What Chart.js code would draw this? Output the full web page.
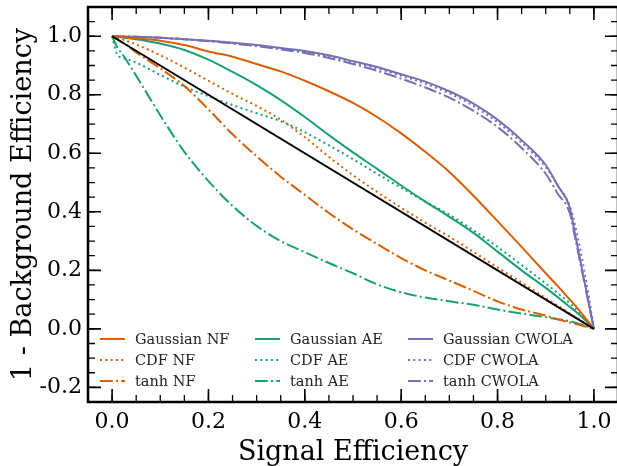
<!DOCTYPE html>
<html lang="en">
  <head>
    <meta charset="UTF-8" />
    <title>ROC - Signal vs Background Efficiency</title>
    <script src="https://cdn.jsdelivr.net/npm/chart.js@4.4.1/dist/chart.umd.min.js"></script>
    <style>
      html,
      body {
        margin: 0;
        padding: 0;
        overflow: hidden;
        background: #fff;
      }
      #wrap {
        width: 620px;
        height: 466px;
      }
    </style>
  </head>
  <body>
    <div id="wrap"><canvas id="roc"></canvas></div>

    <script>
      // signal efficiency grid shared by all curves
      const sigEff = [
        0, 0.01, 0.025, 0.05, 0.1, 0.15, 0.2, 0.25, 0.3, 0.35, 0.4, 0.45, 0.5,
        0.55, 0.6, 0.65, 0.7, 0.75, 0.8, 0.85, 0.9, 0.925, 0.95, 0.96, 0.97,
        0.98, 0.99, 1.0,
      ];

      // 1 - background efficiency
      const gaussianNF = [
        1, 0.999, 0.997, 0.993, 0.985, 0.97, 0.948, 0.93, 0.905, 0.88, 0.848,
        0.812, 0.772, 0.724, 0.668, 0.605, 0.536, 0.455, 0.368, 0.28, 0.19,
        0.146, 0.1, 0.082, 0.062, 0.042, 0.021, 0,
      ];
      const cdfNF = [
        1, 0.995, 0.987, 0.972, 0.935, 0.893, 0.848, 0.803, 0.762, 0.715,
        0.655, 0.588, 0.525, 0.468, 0.414, 0.363, 0.315, 0.263, 0.21, 0.158,
        0.105, 0.079, 0.053, 0.042, 0.032, 0.021, 0.01, 0,
      ];
      const tanhNF = [
        1, 0.99, 0.975, 0.945, 0.89, 0.83, 0.75, 0.665, 0.59, 0.52, 0.458,
        0.396, 0.34, 0.29, 0.242, 0.2, 0.165, 0.13, 0.094, 0.066, 0.045, 0.033,
        0.022, 0.018, 0.014, 0.009, 0.005, 0,
      ];
      const gaussianAE = [
        1, 0.998, 0.995, 0.99, 0.975, 0.953, 0.92, 0.878, 0.833, 0.782, 0.724,
        0.662, 0.603, 0.547, 0.49, 0.435, 0.383, 0.328, 0.264, 0.2, 0.14, 0.108,
        0.075, 0.062, 0.048, 0.033, 0.017, 0,
      ];
      const cdfAE = [
        1, 0.94, 0.925, 0.91, 0.868, 0.828, 0.795, 0.765, 0.737, 0.71, 0.672,
        0.627, 0.58, 0.53, 0.482, 0.435, 0.39, 0.337, 0.28, 0.218, 0.155, 0.122,
        0.088, 0.072, 0.056, 0.039, 0.02, 0,
      ];
      const tanhAE = [
        1, 0.965, 0.93, 0.865, 0.73, 0.605, 0.505, 0.42, 0.352, 0.3, 0.262,
        0.225, 0.19, 0.152, 0.125, 0.107, 0.094, 0.082, 0.066, 0.052, 0.04,
        0.033, 0.026, 0.022, 0.017, 0.012, 0.006, 0,
      ];
      const gaussianCWOLA = [
        1, 1, 0.999, 0.998, 0.995, 0.99, 0.985, 0.978, 0.97, 0.96, 0.95, 0.935,
        0.915, 0.895, 0.87, 0.845, 0.812, 0.77, 0.715, 0.645, 0.56, 0.49,
        0.413, 0.33, 0.248, 0.165, 0.083, 0,
      ];
      const cdfCWOLA = [
        1, 1, 0.999, 0.998, 0.995, 0.99, 0.984, 0.977, 0.968, 0.958, 0.947,
        0.931, 0.911, 0.89, 0.865, 0.838, 0.805, 0.762, 0.706, 0.636, 0.553,
        0.49, 0.42, 0.36, 0.285, 0.2, 0.105, 0,
      ];
      const tanhCWOLA = [
        1, 1, 0.999, 0.998, 0.995, 0.99, 0.983, 0.975, 0.966, 0.955, 0.943,
        0.926, 0.905, 0.882, 0.855, 0.825, 0.79, 0.745, 0.69, 0.618, 0.53,
        0.462, 0.395, 0.32, 0.24, 0.16, 0.08, 0,
      ];

      // random classifier diagonal
      const diagX = [0, 1];
      const diagY = [1, 0];

      const xTicks = [0, 0.2, 0.4, 0.6, 0.8, 1.0];
      const xTickLabels = ["0.0", "0.2", "0.4", "0.6", "0.8", "1.0"];
      const yTicks = [-0.2, 0, 0.2, 0.4, 0.6, 0.8, 1.0];
      const yTickLabels = ["-0.2", "0.0", "0.2", "0.4", "0.6", "0.8", "1.0"];

      const ORANGE = "#d95f02";
      const GREEN = "#1b9e77";
      const PURPLE = "#7570b3";
      const DOTTED = [2, 3.3];
      const DASHDOT = [12.8, 3.2, 2, 3.2];
      const SERIF = "'DejaVu Serif', serif";

      const toPoints = (xs, ys) => xs.map((x, i) => ({ x: x, y: ys[i] }));

      const curve = (label, ys, color, dash) => ({
        label: label,
        data: toPoints(sigEff, ys),
        borderColor: color,
        backgroundColor: color,
        borderWidth: 2,
        borderDash: dash,
        borderCapStyle: "butt",
        borderJoinStyle: "round",
        cubicInterpolationMode: "monotone",
        pointRadius: 0,
        fill: false,
      });

      const datasets = [
        {
          label: "diag",
          data: toPoints(diagX, diagY),
          borderColor: "#000",
          borderWidth: 2,
          pointRadius: 0,
          fill: false,
          hideInLegend: true,
        },
        curve("Gaussian NF", gaussianNF, ORANGE, []),
        curve("CDF NF", cdfNF, ORANGE, DOTTED),
        curve("tanh NF", tanhNF, ORANGE, DASHDOT),
        curve("Gaussian AE", gaussianAE, GREEN, []),
        curve("CDF AE", cdfAE, GREEN, DOTTED),
        curve("tanh AE", tanhAE, GREEN, DASHDOT),
        curve("Gaussian CWOLA", gaussianCWOLA, PURPLE, []),
        curve("CDF CWOLA", cdfCWOLA, PURPLE, DOTTED),
        curve("tanh CWOLA", tanhCWOLA, PURPLE, DASHDOT),
      ];

      // matplotlib style frame: spines on all sides, ticks pointing inward
      const frameAndTicks = {
        id: "frameAndTicks",
        afterDraw(chart) {
          const { ctx, chartArea: a, scales } = chart;
          const xs = scales.x;
          const ys = scales.y;
          ctx.save();
          ctx.strokeStyle = "#000";

          const minor = [];
          for (let i = -5; i <= 22; i++) minor.push(Math.round(i * 5) / 100);

          const tick = (len, w, vals, scale, horiz) => {
            ctx.lineWidth = w;
            ctx.beginPath();
            vals.forEach((v) => {
              if (v < scale.min - 1e-9 || v > scale.max + 1e-9) return;
              const p = scale.getPixelForValue(v);
              if (horiz) {
                ctx.moveTo(p, a.bottom);
                ctx.lineTo(p, a.bottom - len);
                ctx.moveTo(p, a.top);
                ctx.lineTo(p, a.top + len);
              } else {
                ctx.moveTo(a.left, p);
                ctx.lineTo(a.left + len, p);
                ctx.moveTo(a.right, p);
                ctx.lineTo(a.right - len, p);
              }
            });
            ctx.stroke();
          };
          tick(7, 1.3, minor, xs, true);
          tick(7, 1.3, minor, ys, false);
          tick(13, 1.6, xTicks, xs, true);
          tick(13, 1.6, yTicks, ys, false);

          ctx.lineWidth = 2.5;
          ctx.strokeRect(a.left, a.top, a.right - a.left, a.bottom - a.top);
          ctx.restore();
        },
      };

      // three-column legend, filled column by column, inside the axes
      const columnLegend = {
        id: "columnLegend",
        afterDatasetsDraw(chart) {
          const { ctx, chartArea: a } = chart;
          const items = chart.data.datasets.filter((d) => !d.hideInLegend);
          const colX = [12, 167, 320];
          const rowY = [-63, -42, -21];
          ctx.save();
          ctx.font = "14.5px " + SERIF;
          ctx.textBaseline = "middle";
          ctx.fillStyle = "#222";
          items.forEach((d, i) => {
            const x = a.left + colX[Math.floor(i / 3)];
            const y = a.bottom + rowY[i % 3];
            ctx.strokeStyle = d.borderColor;
            ctx.lineWidth = 2;
            ctx.lineCap = "butt";
            ctx.setLineDash(d.borderDash);
            ctx.beginPath();
            ctx.moveTo(x, y);
            ctx.lineTo(x + 25, y);
            ctx.stroke();
            ctx.setLineDash([]);
            ctx.fillText(d.label, x + 35, y + 1);
          });
          ctx.restore();
        },
      };

      new Chart(document.getElementById("roc"), {
        type: "line",
        data: { datasets: datasets },
        plugins: [frameAndTicks, columnLegend],
        options: {
          responsive: true,
          maintainAspectRatio: false,
          animation: false,
          events: [],
          layout: { padding: { top: 7, right: 2, left: 0, bottom: 0 } },
          plugins: {
            legend: { display: false },
            tooltip: { enabled: false },
          },
          scales: {
            x: {
              type: "linear",
              min: -0.05,
              max: 1.05,
              afterBuildTicks: (s) => {
                s.ticks = xTicks.map((v) => ({ value: v }));
              },
              afterFit: (s) => {
                s.height = 64;
                s.paddingLeft = 0;
                s.paddingRight = 0;
              },
              grid: { display: false, drawTicks: false },
              border: { display: false },
              ticks: {
                padding: 7,
                color: "#000",
                font: { family: SERIF, size: 22 },
                maxRotation: 0,
                callback: (v) => xTickLabels[xTicks.indexOf(v)],
              },
              title: {
                display: true,
                text: "Signal Efficiency",
                color: "#000",
                font: { family: SERIF, size: 27 },
                padding: { top: 0, bottom: -3 },
              },
            },
            y: {
              type: "linear",
              min: -0.25,
              max: 1.1,
              afterBuildTicks: (s) => {
                s.ticks = yTicks.map((v) => ({ value: v }));
              },
              afterFit: (s) => {
                s.width = 88;
                s.paddingTop = 0;
                s.paddingBottom = 0;
              },
              grid: { display: false, drawTicks: false },
              border: { display: false },
              ticks: {
                padding: 6,
                color: "#000",
                font: { family: SERIF, size: 22 },
                callback: (v) => yTickLabels[yTicks.indexOf(v)],
              },
              title: {
                display: true,
                text: "1 - Background Efficiency",
                color: "#000",
                font: { family: SERIF, size: 27 },
                padding: { top: 8, bottom: 0 },
              },
            },
          },
        },
      });
    </script>
  </body>
</html>
